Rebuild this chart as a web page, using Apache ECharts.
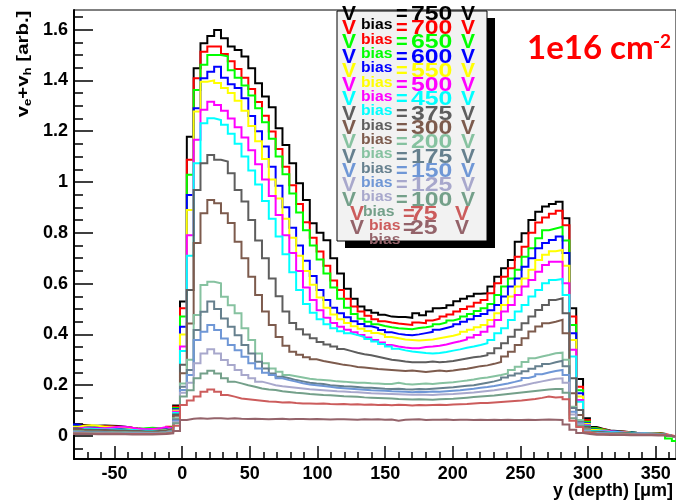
<!DOCTYPE html>
<html><head><meta charset="utf-8">
<script src="https://cdn.jsdelivr.net/npm/echarts@6/dist/echarts.min.js"></script>
<style>html,body{margin:0;padding:0;background:#fff}#c{width:676px;height:504px}</style>
</head><body><div id="c"></div>
<script>
// ---------- data ----------
const VOLTAGES = ['750','700','650','600','550','500','450','375','300','200','175','150','125','100','75','25'];
const COLORS = ['#000000','#ff0000','#00ff00','#0000ff','#ffff00','#ff00ff','#00ffff','#5e5e5e','#7d5b4d',
                '#86c2a0','#66808e','#6f97d6','#a8a8cc','#74a08a','#cc5c5c','#94636a'];
const BIN_START = -82.45;   // left edge of first bin (um)
const BIN_WIDTH = 5.05;     // bin width (um)
const X_MIN = -80, X_MAX = 365;
const Y_MIN = -0.0906, Y_MAX = 1.677;
const X_TICKS = [-50,0,50,100,150,200,250,300,350];
const X_MINOR = [-70,-60,-40,-30,-20,-10,10,20,30,40,60,70,80,90,110,120,130,140,160,170,180,190,210,220,230,240,260,270,280,290,310,320,330,340,360];
const Y_TICKS = [0,0.2,0.4,0.6,0.8,1,1.2,1.4,1.6];
const Y_MINOR = [-0.05,0.05,0.1,0.15,0.25,0.3,0.35,0.45,0.5,0.55,0.65,0.7,0.75,0.85,0.9,0.95,1.05,1.1,1.15,1.25,1.3,1.35,1.45,1.5,1.55,1.65];

const V750 = [0.045,0.043,0.041,0.040,0.041,0.040,0.039,0.036,0.032,0.029,0.027,0.026,0.025,0.027,0.034,
 0.12,
 0.529,1.178,1.448,1.546,1.575,1.598,1.566,1.533,1.52,1.494,1.448,1.389,1.336,1.294,1.211,1.146,1.074,0.995,
 0.929,0.837,0.80,0.771,0.70,0.64,0.58,0.54,0.51,0.495,0.485,0.477,0.47,0.468,0.468,0.465,0.483,0.475,0.49,0.503,0.505,0.515,0.53,0.54,0.55,0.56,
 0.562,0.588,0.627,0.66,0.693,0.765,0.798,0.85,0.883,0.903,0.913,0.922,0.857,0.503,0.224,0.07,0.035,
 0.028,0.022,0.02,0.018,0.015,0.012,0.01,0.01,0.012,0.008,0.0,-0.005];
const V700 = [0.04,0.04,0.039,0.038,0.038,0.037,0.036,0.034,0.032,0.028,0.026,0.025,0.025,0.028,0.036,
 0.115,
 0.503,1.087,1.408,1.513,1.533,1.533,1.504,1.475,1.445,1.41,1.366,1.315,1.261,1.199,1.13,1.06,0.987,0.913,
 0.841,0.78,0.726,0.67,0.612,0.575,0.54,0.51,0.49,0.473,0.46,0.452,0.447,0.443,0.44,0.437,0.447,0.444,0.455,0.462,0.47,0.478,0.49,0.50,0.51,0.525,
 0.535,0.562,0.601,0.627,0.66,0.706,0.745,0.80,0.84,0.86,0.875,0.887,0.83,0.47,0.194,0.063,0.03,
 0.027,0.021,0.019,0.017,0.014,0.012,0.011,0.01,0.012,0.008,0.002,-0.004];
const V650 = [0.038,0.037,0.036,0.036,0.035,0.035,0.034,0.033,0.030,0.028,0.03,0.032,0.03,0.03,0.035,
 0.11,
 0.47,1.028,1.362,1.461,1.50,1.50,1.495,1.44,1.41,1.38,1.34,1.29,1.235,1.17,1.10,1.03,0.955,0.88,
 0.81,0.75,0.695,0.64,0.585,0.54,0.505,0.48,0.462,0.45,0.44,0.433,0.428,0.424,0.422,0.42,0.425,0.428,0.432,0.44,0.447,0.455,0.462,0.47,0.48,0.492,
 0.503,0.52,0.555,0.588,0.62,0.654,0.706,0.739,0.778,0.81,0.817,0.824,0.77,0.437,0.18,0.056,0.03,
 0.025,0.02,0.018,0.016,0.015,0.012,0.012,0.01,0.01,0.008,-0.01,-0.02];
const V600 = [0.045,0.038,0.035,0.034,0.034,0.033,0.032,0.03,0.028,0.026,0.025,0.025,0.025,0.027,0.033,
 0.105,
 0.43,0.949,1.29,1.408,1.434,1.454,1.41,1.385,1.37,1.33,1.26,1.20,1.14,1.06,0.985,0.90,0.82,0.75,
 0.69,0.63,0.575,0.535,0.505,0.483,0.467,0.452,0.441,0.432,0.425,0.417,0.408,0.402,0.399,0.397,0.40,0.405,0.41,0.418,0.425,0.432,0.44,0.45,0.46,0.472,
 0.48,0.495,0.516,0.549,0.588,0.62,0.666,0.70,0.739,0.76,0.772,0.785,0.72,0.404,0.168,0.05,0.026,
 0.022,0.02,0.018,0.015,0.014,0.012,0.01,0.01,0.009,0.006,0.0,-0.004];
const V550 = [0.035,0.04,0.042,0.040,0.036,0.036,0.035,0.033,0.03,0.027,0.025,0.024,0.022,0.024,0.03,
 0.10,
 0.40,0.89,1.277,1.395,1.40,1.39,1.37,1.35,1.32,1.28,1.22,1.16,1.09,1.01,0.935,0.855,0.78,0.71,
 0.65,0.595,0.545,0.505,0.478,0.46,0.445,0.432,0.422,0.413,0.405,0.398,0.39,0.385,0.38,0.378,0.376,0.378,0.38,0.385,0.39,0.395,0.402,0.41,0.418,0.428,
 0.437,0.457,0.483,0.516,0.549,0.588,0.62,0.654,0.693,0.713,0.727,0.732,0.67,0.378,0.155,0.047,0.024,
 0.022,0.018,0.016,0.015,0.013,0.012,0.01,0.01,0.009,0.006,0.0,-0.004];
const V500 = [0.03,0.032,0.03,0.03,0.03,0.033,0.036,0.036,0.032,0.028,0.027,0.028,0.03,0.035,0.03,
 0.095,
 0.352,0.79,1.166,1.284,1.316,1.303,1.28,1.25,1.215,1.175,1.125,1.07,1.01,0.945,0.87,0.79,0.72,0.65,
 0.585,0.535,0.495,0.465,0.445,0.43,0.418,0.408,0.398,0.388,0.378,0.368,0.358,0.352,0.348,0.345,0.345,0.35,0.352,0.355,0.36,0.367,0.373,0.38,0.388,0.398,
 0.41,0.431,0.457,0.49,0.516,0.555,0.588,0.614,0.647,0.673,0.686,0.686,0.601,0.339,0.142,0.043,0.02,
 0.02,0.018,0.016,0.014,0.012,0.011,0.01,0.009,0.008,0.006,0.0,-0.004];
const V450 = [0.025,0.028,0.028,0.027,0.026,0.026,0.025,0.025,0.024,0.022,0.021,0.02,0.02,0.022,0.028,
 0.09,
 0.335,0.71,1.074,1.231,1.251,1.244,1.225,1.19,1.15,1.10,1.045,0.99,0.925,0.855,0.785,0.715,0.645,0.575,
 0.52,0.485,0.46,0.44,0.424,0.412,0.404,0.397,0.39,0.382,0.372,0.362,0.352,0.343,0.337,0.333,0.33,0.327,0.325,0.327,0.331,0.336,0.341,0.347,0.352,0.358,
 0.365,0.378,0.404,0.424,0.457,0.49,0.516,0.549,0.575,0.601,0.614,0.618,0.555,0.313,0.135,0.04,0.02,
 0.018,0.016,0.015,0.013,0.012,0.01,0.01,0.009,0.008,0.005,0.0,-0.004];
const V375 = [0.03,0.025,0.025,0.024,0.024,0.023,0.022,0.022,0.02,0.02,0.018,0.018,0.02,0.022,0.028,
 0.085,
 0.28,0.575,0.968,1.074,1.106,1.087,1.08,1.034,0.968,0.923,0.85,0.77,0.70,0.62,0.55,0.49,0.445,0.42,
 0.40,0.385,0.37,0.36,0.352,0.342,0.335,0.328,0.322,0.318,0.312,0.306,0.30,0.297,0.293,0.29,0.29,0.29,0.293,0.29,0.292,0.295,0.30,0.305,0.31,0.313,
 0.318,0.326,0.345,0.365,0.391,0.418,0.444,0.47,0.496,0.516,0.535,0.542,0.483,0.227,0.102,0.037,0.017,
 0.015,0.013,0.012,0.011,0.01,0.009,0.008,0.008,0.007,0.005,0.0,-0.003];
const V300 = [0.025,0.022,0.02,0.02,0.02,0.02,0.019,0.018,0.018,0.017,0.016,0.016,0.017,0.02,0.025,
 0.08,
 0.247,0.443,0.76,0.877,0.929,0.916,0.877,0.838,0.765,0.70,0.627,0.555,0.49,0.437,0.39,0.355,0.332,0.32,
 0.31,0.302,0.295,0.29,0.285,0.28,0.277,0.272,0.27,0.267,0.264,0.262,0.26,0.258,0.256,0.258,0.255,0.252,0.255,0.258,0.255,0.258,0.262,0.265,0.27,0.275,
 0.278,0.284,0.291,0.313,0.332,0.358,0.385,0.411,0.431,0.444,0.45,0.457,0.404,0.168,0.083,0.03,0.015,
 0.013,0.012,0.011,0.01,0.009,0.008,0.008,0.007,0.007,0.005,0.0,-0.003];
const V200 = [0.02,0.018,0.017,0.017,0.016,0.016,0.015,0.015,0.014,0.014,0.013,0.013,0.014,0.016,0.022,
 0.07,
 0.207,0.30,0.476,0.594,0.607,0.601,0.548,0.515,0.483,0.424,0.378,0.325,0.286,0.266,0.253,0.24,0.235,0.23,
 0.225,0.222,0.22,0.218,0.215,0.214,0.212,0.21,0.21,0.208,0.207,0.205,0.205,0.21,0.205,0.203,0.205,0.207,0.205,0.208,0.21,0.212,0.215,0.218,0.222,0.227,
 0.23,0.235,0.24,0.246,0.26,0.273,0.291,0.306,0.313,0.319,0.326,0.328,0.30,0.115,0.063,0.026,0.013,
 0.012,0.011,0.01,0.009,0.008,0.008,0.007,0.007,0.006,0.005,0.0,-0.003];
const V175 = [0.018,0.016,0.015,0.015,0.015,0.014,0.014,0.013,0.013,0.013,0.012,0.012,0.013,0.015,0.02,
 0.065,
 0.194,0.26,0.417,0.489,0.529,0.50,0.463,0.43,0.397,0.358,0.325,0.292,0.266,0.246,0.233,0.227,0.22,0.215,
 0.21,0.207,0.205,0.2,0.198,0.196,0.195,0.193,0.19,0.19,0.188,0.186,0.185,0.186,0.184,0.183,0.185,0.184,0.186,0.188,0.19,0.192,0.195,0.198,0.2,0.205,
 0.21,0.215,0.222,0.23,0.238,0.246,0.255,0.265,0.275,0.283,0.29,0.296,0.275,0.11,0.055,0.022,0.012,
 0.011,0.01,0.009,0.008,0.008,0.007,0.007,0.006,0.006,0.005,0.0,-0.003];
const V150 = [0.015,0.014,0.013,0.013,0.013,0.012,0.012,0.012,0.011,0.011,0.011,0.011,0.012,0.014,0.018,
 0.06,
 0.181,0.24,0.378,0.41,0.437,0.417,0.384,0.358,0.338,0.312,0.286,0.266,0.249,0.24,0.227,0.22,0.214,0.208,
 0.203,0.2,0.197,0.194,0.19,0.188,0.186,0.184,0.182,0.18,0.179,0.178,0.176,0.175,0.174,0.172,0.174,0.173,0.175,0.174,0.176,0.178,0.18,0.183,0.186,0.19,
 0.193,0.197,0.202,0.207,0.213,0.22,0.228,0.235,0.243,0.25,0.256,0.26,0.24,0.095,0.05,0.02,0.011,
 0.01,0.009,0.008,0.008,0.007,0.007,0.006,0.006,0.005,0.004,0.0,-0.003];
const V125 = [0.013,0.012,0.012,0.012,0.011,0.011,0.011,0.01,0.01,0.01,0.01,0.01,0.011,0.013,0.016,
 0.055,
 0.17,0.21,0.286,0.325,0.341,0.325,0.299,0.279,0.26,0.24,0.227,0.214,0.207,0.20,0.196,0.193,0.19,0.187,
 0.184,0.182,0.18,0.178,0.176,0.175,0.173,0.172,0.17,0.168,0.167,0.166,0.165,0.164,0.163,0.162,0.163,0.162,0.161,0.163,0.164,0.165,0.167,0.169,0.171,0.174,
 0.177,0.18,0.184,0.188,0.193,0.198,0.204,0.21,0.215,0.22,0.225,0.227,0.21,0.085,0.045,0.018,0.01,
 0.009,0.008,0.008,0.007,0.007,0.006,0.006,0.005,0.005,0.004,0.0,-0.003];
const V100 = [0.012,0.011,0.011,0.01,0.01,0.01,0.01,0.01,0.009,0.009,0.009,0.009,0.01,0.012,0.015,
 0.05,
 0.155,0.18,0.227,0.246,0.257,0.246,0.227,0.214,0.207,0.20,0.194,0.187,0.183,0.181,0.176,0.173,0.17,0.168,
 0.165,0.163,0.161,0.16,0.158,0.156,0.155,0.154,0.152,0.151,0.15,0.149,0.148,0.146,0.145,0.144,0.145,0.144,0.143,0.145,0.146,0.147,0.149,0.151,0.153,0.155,
 0.157,0.159,0.162,0.165,0.168,0.171,0.174,0.177,0.18,0.183,0.185,0.185,0.17,0.07,0.04,0.016,0.009,
 0.008,0.008,0.007,0.007,0.006,0.006,0.005,0.005,0.005,0.004,0.0,-0.003];
const V75 = [0.01,0.01,0.009,0.009,0.009,0.009,0.009,0.008,0.008,0.008,0.008,0.008,0.009,0.01,0.012,
 0.04,
 0.122,0.14,0.155,0.174,0.183,0.174,0.161,0.155,0.148,0.145,0.142,0.139,0.136,0.135,0.132,0.133,0.13,0.128,
 0.128,0.127,0.128,0.126,0.125,0.126,0.124,0.125,0.123,0.124,0.122,0.123,0.121,0.123,0.122,0.12,0.122,0.121,0.122,0.123,0.122,0.124,0.125,0.126,0.128,0.13,
 0.13,0.132,0.134,0.136,0.138,0.14,0.143,0.146,0.15,0.155,0.152,0.153,0.145,0.06,0.035,0.014,0.008,
 0.007,0.007,0.006,0.006,0.006,0.005,0.005,0.005,0.004,0.004,0.0,-0.003];
const V25 = [0.008,0.008,0.008,0.007,0.007,0.007,0.007,0.007,0.006,0.006,0.006,0.006,0.007,0.008,0.01,
 0.02,
 0.063,0.068,0.07,0.068,0.07,0.07,0.068,0.07,0.068,0.067,0.068,0.067,0.066,0.067,0.068,0.066,0.067,0.067,
 0.066,0.067,0.066,0.065,0.066,0.066,0.065,0.064,0.066,0.065,0.066,0.064,0.065,0.06,0.064,0.065,0.066,0.063,0.064,0.064,0.065,0.063,0.064,0.064,0.063,0.064,
 0.063,0.064,0.063,0.064,0.063,0.063,0.064,0.063,0.064,0.065,0.064,0.063,0.045,0.025,0.012,0.008,0.005,
 0.005,0.004,0.004,0.004,0.003,0.003,0.003,0.003,0.002,0.002,0.0,-0.003];

const SERIES_VALUES = [V750,V700,V650,V600,V550,V500,V450,V375,V300,V200,V175,V150,V125,V100,V75,V25];

// ---------- chart ----------
const FONT = '"Liberation Sans", Arial, Helvetica, sans-serif';
function toSteps(vals) {
  const pts = vals.map((v, i) => [BIN_START + i * BIN_WIDTH, v]);
  pts.push([BIN_START + vals.length * BIN_WIDTH, vals[vals.length - 1]]);
  return pts;
}

const series = SERIES_VALUES.map((vals, i) => ({
  name: VOLTAGES[i] + ' V',
  type: 'line',
  step: 'end',
  symbol: 'none',
  xAxisIndex: 0, yAxisIndex: 0,
  data: toSteps(vals),
  lineStyle: { color: COLORS[i], width: 2, join: 'miter' },
  itemStyle: { color: COLORS[i] },
  z: 2 + i * 0.01,
  animation: false
}));

// legend (ROOT TLegend look-alike) drawn as graphic text
const graphics = [];
graphics.push({ type: 'rect', z: 100, shape: { x: 345, y: 18, width: 150, height: 230 }, style: { fill: '#000' } });
graphics.push({ type: 'rect', z: 101, shape: { x: 337, y: 11, width: 150, height: 230 }, style: { fill: '#f2f2f2', stroke: '#000', lineWidth: 1 } });
function legendText(txt, x, y, col, font, sx, z) {
  return { type: 'text', z: z || 102, x: x, y: y, scaleX: sx || 1,
    style: { text: txt, fill: col, font: font, textAlign: 'left', textVerticalAlign: 'middle', align: 'left', verticalAlign: 'middle' } };
}
VOLTAGES.forEach((v, i) => {
  const y = 14 + 14.33 * i;
  const late = i >= 14;
  const col = COLORS[i];
  const big = 'bold 20px ' + FONT;
  graphics.push(legendText('V', late ? 350 : 342, y, col, big, 1.05));
  graphics.push(legendText('=', late ? 403 : 396, y, col, big, 1.0));
  graphics.push(legendText(v, late ? 410 : 411, y, col, big, 1.24));
  graphics.push(legendText('V', late ? 455 : 461, y, col, big, 1.05));
  graphics.push(legendText('bias', (i === 13 ? 363 : (late ? 369 : 361)), y + 11.5, col, 'bold 14px ' + FONT, 1.12, 103));
});
// fluence label
graphics.push({ type: 'text', z: 104, x: 527, y: 48,
  style: { text: '1e16 cm', fill: '#ff0000', font: 'bold 33px Lato, "Open Sans", sans-serif', textAlign: 'left', textVerticalAlign: 'middle', align: 'left', verticalAlign: 'middle' } });
graphics.push({ type: 'text', z: 104, x: 653, y: 42,
  style: { text: '-2', fill: '#ff0000', font: 'bold 19px Lato, "Open Sans", sans-serif', textAlign: 'left', textVerticalAlign: 'middle', align: 'left', verticalAlign: 'middle' } });
// axis titles
graphics.push({ type: 'text', z: 104, x: 23, y: 64, rotation: Math.PI / 2, scaleX: 1.2,
  style: { text: '{m|v}{s|e}{m|+v}{s|h}{m| [arb.]}', fill: '#000',
    rich: { m: { font: 'bold 17px ' + FONT, lineHeight: 20, fill: '#000' },
            s: { font: 'bold 11px ' + FONT, lineHeight: 8, verticalAlign: 'bottom', fill: '#000' } },
    textAlign: 'center', textVerticalAlign: 'middle', align: 'center', verticalAlign: 'middle' } });
graphics.push({ type: 'text', z: 104, x: 673, y: 491,
  style: { text: 'y (depth) [μm]', fill: '#000', font: 'bold 18px ' + FONT, textAlign: 'right', textVerticalAlign: 'middle', align: 'right', verticalAlign: 'middle' } });

const axisLabelStyle = { color: '#000', fontWeight: 'bold', fontSize: 18, fontFamily: FONT };

const option = {
  animation: false,
  backgroundColor: '#fff',
  grid: { left: 74, top: 10, width: 603, height: 449, show: true, borderColor: '#000', borderWidth: 1, backgroundColor: 'transparent' },
  xAxis: [
    { type: 'value', min: X_MIN, max: X_MAX, position: 'bottom',
      axisLine: { show: true, onZero: false, lineStyle: { color: '#000', width: 2 } },
      axisTick: { show: true, inside: true, length: 13, customValues: X_TICKS, lineStyle: { color: '#000', width: 1.5 } },
      axisLabel: { show: true, margin: 6, customValues: X_TICKS, ...axisLabelStyle },
      splitLine: { show: false } },
    { type: 'value', min: X_MIN, max: X_MAX, position: 'bottom',
      axisLine: { show: false, onZero: false },
      axisTick: { show: true, inside: true, length: 7, customValues: X_MINOR, lineStyle: { color: '#000', width: 1.5 } },
      axisLabel: { show: false }, splitLine: { show: false } }
  ],
  yAxis: [
    { type: 'value', min: Y_MIN, max: Y_MAX, position: 'left',
      axisLine: { show: true, onZero: false, lineStyle: { color: '#000', width: 2 } },
      axisTick: { show: true, inside: true, length: 19, customValues: Y_TICKS, lineStyle: { color: '#000', width: 1.5 } },
      axisLabel: { show: true, margin: 6, customValues: Y_TICKS, ...axisLabelStyle },
      splitLine: { show: false } },
    { type: 'value', min: Y_MIN, max: Y_MAX, position: 'left',
      axisLine: { show: false, onZero: false },
      axisTick: { show: true, inside: true, length: 9, customValues: Y_MINOR, lineStyle: { color: '#000', width: 1.5 } },
      axisLabel: { show: false }, splitLine: { show: false } }
  ],
  series: series,
  graphic: { elements: graphics }
};

const chart = echarts.init(document.getElementById('c'), null, { renderer: 'canvas' });
chart.setOption(option);
</script>
</body></html>
